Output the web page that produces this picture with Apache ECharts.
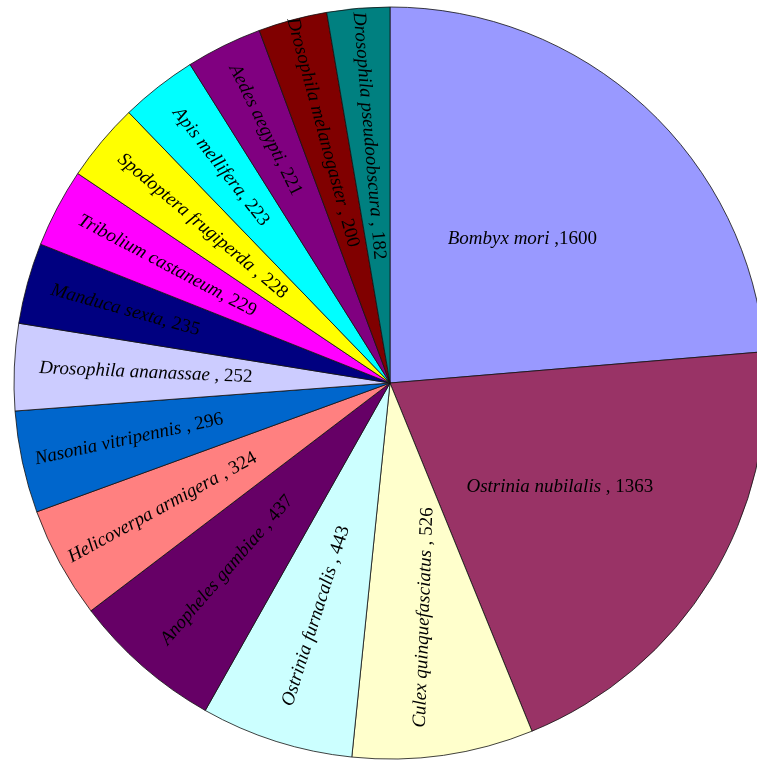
<!DOCTYPE html>
<html>
<head>
<meta charset="utf-8">
<script src="https://cdn.jsdelivr.net/npm/echarts@6/dist/echarts.min.js"></script>
<style>
html,body{margin:0;padding:0;background:#fff;}
#chart{width:757px;height:760px;}
</style>
</head>
<body>
<div id="chart"></div>
<script>
// Data
const species = [
  'Bombyx mori', 'Ostrinia nubilalis', 'Culex quinquefasciatus', 'Ostrinia furnacalis',
  'Anopheles gambiae', 'Helicoverpa armigera', 'Nasonia vitripennis', 'Drosophila ananassae',
  'Manduca sexta', 'Tribolium castaneum', 'Spodoptera frugiperda', 'Apis mellifera',
  'Aedes aegypti', 'Drosophila melanogaster', 'Drosophila pseudoobscura'
];
const counts = [1600, 1363, 526, 443, 437, 324, 296, 252, 235, 229, 228, 223, 221, 200, 182];
const separators = [' ,', ' , ', ' , ', ' , ', ' , ', ' , ', ' , ', ' , ', ', ', ', ', ' , ', ', ', ', ', ' , ', ' , '];

// Styling
const colors = ['#9999FF', '#993366', '#FFFFCC', '#CCFFFF', '#660066', '#FF8080', '#0066CC', '#CCCCFF',
  '#000080', '#FF00FF', '#FFFF00', '#00FFFF', '#800080', '#800000', '#008080'];
const labelRadius = [0.52, 0.53, 0.63, 0.65, 0.66, 0.69, 0.71, 0.65, 0.73, 0.67, 0.65, 0.73, 0.75, 0.69, 0.66];
const labelRotateOverride = {0: 0, 1: 0, 2: 88};

const CX = 390, CY = 383, R = 376;
const FS = 19;

const chart = echarts.init(document.getElementById('chart'), null, {renderer: 'canvas'});
const data = species.map((name, i) => {
  const item = {name: name, value: counts[i], itemStyle: {color: colors[i]}};
  if (labelRotateOverride[i] !== undefined) item.label = {rotate: labelRotateOverride[i]};
  return item;
});

chart.setOption({
  backgroundColor: '#fff',
  animation: false,
  series: [{
    type: 'pie',
    center: [CX, CY],
    radius: [0, R],
    startAngle: 90,
    clockwise: true,
    avoidLabelOverlap: false,
    data: data,
    itemStyle: {borderColor: '#111', borderWidth: 0.8},
    emphasis: {disabled: true},
    labelLine: {show: false},
    label: {
      show: true,
      position: 'inside',
      rotate: 'radial',
      fontFamily: 'Liberation Serif',
      fontSize: FS,
      color: '#000',
      formatter: function (p) {
        return '{a|' + p.name + '}{b|' + separators[p.dataIndex] + p.value + '}';
      },
      rich: {
        a: {fontFamily: 'Liberation Serif', fontStyle: 'italic', fontSize: FS, color: '#000'},
        b: {fontFamily: 'Liberation Serif', fontSize: FS, color: '#000'}
      }
    },
    labelLayout: function (p) {
      const r = p.labelRect;
      const x = r.x + r.width / 2, y = r.y + r.height / 2;
      const dx = x - CX, dy = y - CY;
      const d = Math.sqrt(dx * dx + dy * dy) || 1;
      const k = labelRadius[p.dataIndex] * R / d;
      return {x: CX + dx * k, y: CY + dy * k};
    }
  }]
});
</script>
</body>
</html>
